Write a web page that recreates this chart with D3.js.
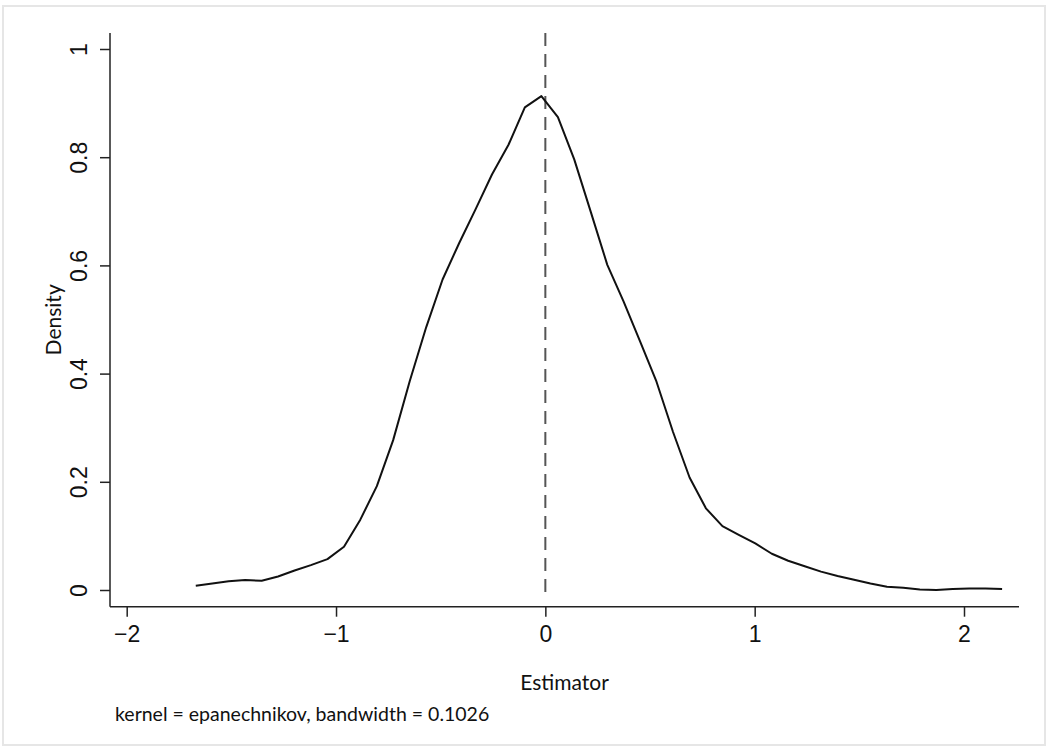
<!DOCTYPE html>
<html>
<head>
<meta charset="utf-8">
<script src="https://cdn.jsdelivr.net/npm/d3@7"></script>
<style>
  html, body { margin: 0; padding: 0; background: #fff; }
  svg { display: block; font-family: Lato, "Open Sans", sans-serif; }
</style>
</head>
<body>
<div id="chart"></div>
<script>
// kdensity estimate, 50 evaluation points
const estimator = [
  -1.670, -1.591, -1.513, -1.434, -1.355, -1.277, -1.198, -1.120, -1.041, -0.962,
  -0.884, -0.805, -0.727, -0.648, -0.569, -0.491, -0.412, -0.333, -0.255, -0.176,
  -0.098, -0.019, 0.060, 0.138, 0.217, 0.296, 0.374, 0.453, 0.531, 0.610,
  0.689, 0.767, 0.846, 0.924, 1.003, 1.082, 1.160, 1.239, 1.317, 1.396,
  1.475, 1.553, 1.632, 1.710, 1.789, 1.868, 1.946, 2.025, 2.103, 2.182
];
const density = [
  0.008, 0.012, 0.016, 0.0185, 0.017, 0.025, 0.036, 0.046, 0.057, 0.080,
  0.130, 0.192, 0.277, 0.386, 0.486, 0.574, 0.641, 0.704, 0.768, 0.823,
  0.892, 0.913, 0.874, 0.796, 0.699, 0.601, 0.533, 0.459, 0.385, 0.292,
  0.208, 0.151, 0.118, 0.102, 0.086, 0.067, 0.054, 0.044, 0.034, 0.026,
  0.019, 0.012, 0.006, 0.004, 0.001, 0.000, 0.002, 0.003, 0.003, 0.002
];
const xTicks = [-2, -1, 0, 1, 2];
const yTicks = [0, 0.2, 0.4, 0.6, 0.8, 1];
const refLine = 0;
const xTitle = "Estimator";
const yTitle = "Density";
const note = "kernel = epanechnikov, bandwidth = 0.1026";

const width = 1048, height = 751;
// plot frame (where the axis lines sit)
const frame = { left: 110, right: 1019, top: 33, bottom: 606.7 };

const svg = d3.select("#chart").append("svg")
  .attr("width", width)
  .attr("height", height);

// outer graph border
svg.append("rect")
  .attr("x", 3).attr("y", 6)
  .attr("width", 1042).attr("height", 739)
  .attr("fill", "none")
  .attr("stroke", "#e6e6e6")
  .attr("stroke-width", 2);

const x = d3.scaleLinear().domain([-2, 2]).range([126.7, 964]);
const y = d3.scaleLinear().domain([0, 1]).range([590, 49]);

const fmt = d => d3.format("")(d).replace("-", "\u2212");

// x axis
const gx = svg.append("g")
  .attr("transform", `translate(0,${frame.bottom})`)
  .call(d3.axisBottom(x).tickValues(xTicks).tickSize(10).tickFormat(fmt));
gx.select(".domain").remove();
gx.selectAll(".tick line").attr("stroke", "#222").attr("stroke-width", 1.5);
gx.selectAll(".tick text")
  .attr("dy", null)
  .attr("y", 35.5)
  .attr("fill", "#111")
  .style("font-size", "23px");

// y axis
const gy = svg.append("g")
  .attr("transform", `translate(${frame.left},0)`)
  .call(d3.axisLeft(y).tickValues(yTicks).tickSize(10).tickFormat(d3.format("")));
gy.select(".domain").remove();
gy.selectAll(".tick line").attr("stroke", "#222").attr("stroke-width", 1.5);
gy.selectAll(".tick text")
  .attr("x", null).attr("dy", null)
  .attr("text-anchor", "middle")
  .attr("transform", "translate(-23,0) rotate(-90)")
  .attr("fill", "#111")
  .style("font-size", "23px");

// axis lines
svg.append("line")
  .attr("x1", frame.left).attr("x2", frame.left)
  .attr("y1", frame.top).attr("y2", frame.bottom)
  .attr("stroke", "#222").attr("stroke-width", 1.5);
svg.append("line")
  .attr("x1", frame.left).attr("x2", frame.right)
  .attr("y1", frame.bottom).attr("y2", frame.bottom)
  .attr("stroke", "#222").attr("stroke-width", 1.5);

// reference line at 0
svg.append("line")
  .attr("x1", x(refLine)).attr("x2", x(refLine))
  .attr("y1", frame.top).attr("y2", frame.bottom - 8)
  .attr("stroke", "#555")
  .attr("stroke-width", 2)
  .attr("stroke-dasharray", "13,8");

// density curve
const pts = estimator.map((v, i) => [v, density[i]]);
svg.append("path")
  .datum(pts)
  .attr("fill", "none")
  .attr("stroke", "#111")
  .attr("stroke-width", 2)
  .attr("stroke-linejoin", "round")
  .attr("d", d3.line().x(d => x(d[0])).y(d => y(d[1])));

// titles
svg.append("text")
  .attr("x", (frame.left + frame.right) / 2)
  .attr("y", 690)
  .attr("text-anchor", "middle")
  .attr("fill", "#111")
  .style("font-size", "21px")
  .text(xTitle);

svg.append("text")
  .attr("transform", `translate(61,${(frame.top + frame.bottom) / 2}) rotate(-90)`)
  .attr("text-anchor", "middle")
  .attr("fill", "#111")
  .style("font-size", "21px")
  .text(yTitle);

svg.append("text")
  .attr("x", 115)
  .attr("y", 721)
  .attr("fill", "#111")
  .style("font-size", "19.5px")
  .text(note);
</script>
</body>
</html>
